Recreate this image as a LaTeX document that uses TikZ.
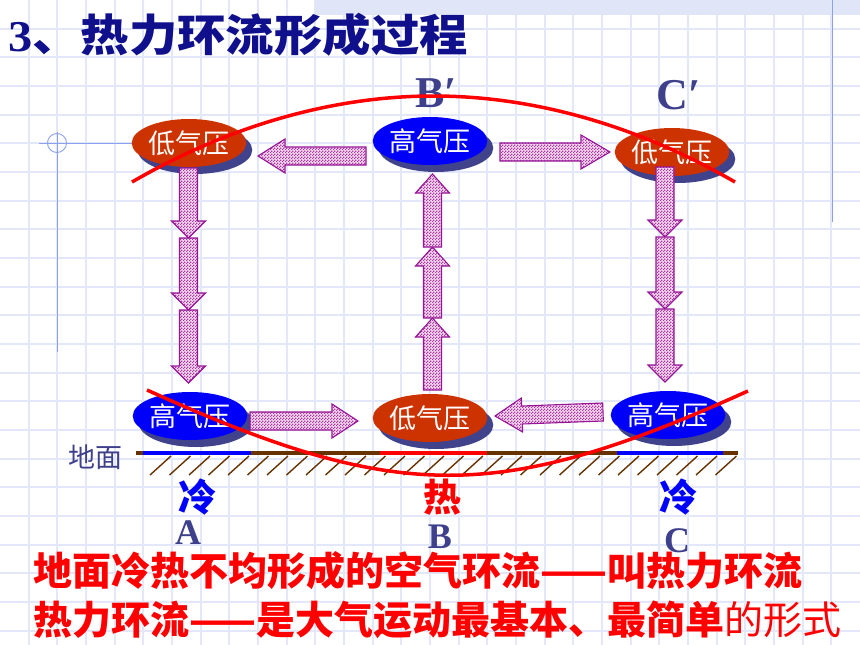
\documentclass[tikz,border=0pt]{standalone}
\usepackage{fontspec}
\setmainfont{Liberation Serif}
\newfontfamily\cjk{Noto Sans CJK SC}
\usetikzlibrary{calc}
\usetikzlibrary{shapes.geometric}
\usetikzlibrary{shadows}
\usetikzlibrary{patterns}
\definecolor{grid colour}{RGB}{226,232,250}
\definecolor{band colour}{RGB}{224,230,248}
\definecolor{deco colour}{RGB}{140,160,240}
\definecolor{title colour}{RGB}{16,16,140}
\definecolor{label colour}{RGB}{62,64,140}
\definecolor{shadow colour}{RGB}{64,66,140}
\definecolor{low colour}{RGB}{204,51,0}
\definecolor{high colour}{RGB}{0,0,250}
\definecolor{arrow edge}{RGB}{150,20,150}
\definecolor{arrow fill}{RGB}{246,214,240}
\definecolor{arrow dot}{RGB}{168,60,160}
\definecolor{ground colour}{RGB}{102,51,0}
% Small checks for the texture of the flow arrows
\pgfdeclarepatternformonly{fine checks}{\pgfqpoint{0pt}{0pt}}%
    {\pgfqpoint{3pt}{3pt}}{\pgfqpoint{3pt}{3pt}}{%
    \pgfpathrectangle{\pgfqpoint{0pt}{0pt}}{\pgfqpoint{1.5pt}{1.5pt}}%
    \pgfpathrectangle{\pgfqpoint{1.5pt}{1.5pt}}{\pgfqpoint{1.5pt}{1.5pt}}%
    \pgfusepath{fill}}
\tikzset{
    % Thin lines behind everything
    grid line/.style={color=grid colour, line width=1.8pt},
    deco line/.style={color=deco colour, line width=0.9pt},
    % The red boundary curves
    front/.style={color=red, line width=3.5pt},
    ground line/.style={line width=4pt},
    hatch/.style={color=ground colour, line width=1.4pt},
}
% Block arrow from tail #1 to tip #2, head length #3
\newcommand{\blockarrow}[3]{%
    \coordinate (neck) at ($(#2)!#3!(#1)$);
    \draw [flow] ($(#1)!9pt!90:(#2)$) -- ($(neck)!9pt!-90:(#1)$)
        -- ($(neck)!17pt!-90:(#1)$) -- (#2) -- ($(neck)!17pt!90:(#1)$)
        -- ($(neck)!9pt!90:(#1)$) -- ($(#1)!9pt!-90:(#2)$) -- cycle;
}
\begin{document}
\begin{tikzpicture}[
    x=1pt, y=-1pt,
    pressure/.style={ellipse, minimum width=114pt, minimum height=48pt,
        inner sep=0, text=white, font=\cjk\fontsize{27}{27}\selectfont,
        drop shadow={shadow xshift=6pt, shadow yshift=-7pt,
            fill=shadow colour, opacity=1}},
    low/.style={pressure, fill=low colour},
    high/.style={pressure, fill=high colour},
    flow/.style={draw=arrow edge, line width=1.1pt, preaction={fill=arrow fill},
        pattern=fine checks, pattern color=arrow dot},
    letter/.style={text=label colour, font=\bfseries\fontsize{36}{36}\selectfont},
    prime letter/.style={text=label colour, font=\bfseries\fontsize{44}{44}\selectfont},
    ground word/.style={font=\cjk\bfseries\fontsize{38}{38}\selectfont},
    statement/.style={anchor=west, text=red, inner sep=0,
        font=\cjk\bfseries\fontsize{39}{39}\selectfont},
]
\useasboundingbox (0,0) rectangle (860,645);
\fill [white] (0,0) rectangle (860,645);

% background grid
\foreach \k in {1,...,29}
    \draw [grid line] ({\k*28.667},0) -- ({\k*28.667},645);
\foreach \k in {1,...,22}
    \draw [grid line] (0,{\k*28.667}) -- (860,{\k*28.667});
\fill [band colour] (315,0) rectangle (860,15);
\draw [deco line] (832,0) -- (832,222);
\draw [deco line] (57,132) -- (57,352);
\draw [deco line] (39,143) -- (133,143);
\draw [deco line] (57,143) circle (9.5);

\node (title) [anchor=west, inner sep=0, text=title colour,
    font=\bfseries\fontsize{44}{44}\selectfont] at (8,35)
    {\scalebox{1.1}[1]{3\cjk 、热力环流形成过程}};

\node (a upper) [low] at (189,143) {低气压};
\node (b upper) [high] at (430,141) {高气压};
\node (c upper) [low] at (672,152) {低气压};
\node (a lower) [high] at (190,416) {高气压};
\node (b lower) [low] at (430,418) {低气压};
\node (c lower) [high] at (668,415) {高气压};

\node (b prime) [prime letter] at (436,93) {B′};
\node (c prime) [prime letter] at (679,95) {C′};

% arrows
\path
    (366,156) coordinate (bl tail) (258,156) coordinate (bl tip)
    (500,152) coordinate (br tail) (610,152) coordinate (br tip)
    (250,421) coordinate (ar tail) (358,421) coordinate (ar tip)
    (603,412) coordinate (cl tail) (495,416) coordinate (cl tip);
\blockarrow{bl tail}{bl tip}{27pt}
\blockarrow{br tail}{br tip}{29pt}
\blockarrow{ar tail}{ar tip}{26pt}
\blockarrow{cl tail}{cl tip}{27pt}
\foreach \y [count=\i from 0] in {168,238,310,383} {
    \coordinate (a\i) at (188.5,\y);
    \coordinate (c\i) at (665,\y-1);
}
\foreach \y [count=\i from 0] in {390,318,247,174}
    \coordinate (b\i) at (432.5,\y);
\foreach \i/\j in {0/1,1/2,2/3} {
    \blockarrow{a\i}{a\j}{17pt}
    \blockarrow{b\i}{b\j}{19pt}
    \blockarrow{c\i}{c\j}{17pt}
}

% ground
\draw [ground line, ground colour] (136,453) coordinate (ground west)
    -- (738,453) coordinate (ground east);
\draw [ground line, blue] (143,453) -- (251,453);
\draw [ground line, red] (380,453) -- (487,453);
\draw [ground line, blue] (617,453) -- (723,453);
\foreach \i in {0,...,29}
    \draw [hatch] ({150+\i*19.5},475) -- ++(21,-19);

\draw [front] (132,182) parabola bend (433.5,96) (735,182);
\draw [front] (147,390) .. controls (397,503) and (498,504) .. (748,391);

\node (ground) [text=label colour, font=\cjk\fontsize{27}{27}\selectfont]
    at (95,457) {地面};
\node (a cold) [ground word, text=blue] at (197,497) {冷};
\node (b hot) [ground word, text=red] at (442,497) {热};
\node (c cold) [ground word, text=blue] at (678,497) {冷};
\node (a name) [letter] at (188,533) {A};
\node (b name) [letter] at (440,537) {B};
\node (c name) [letter] at (677,541) {C};

\node (summary one) [statement] at (33,571)
    {地面冷热不均形成的空气环流——叫热力环流};
\node (summary two) [statement] at (33,620)
    {热力环流——是大气运动最基本、最简单{\mdseries 的形式}};
\end{tikzpicture}
\end{document}
